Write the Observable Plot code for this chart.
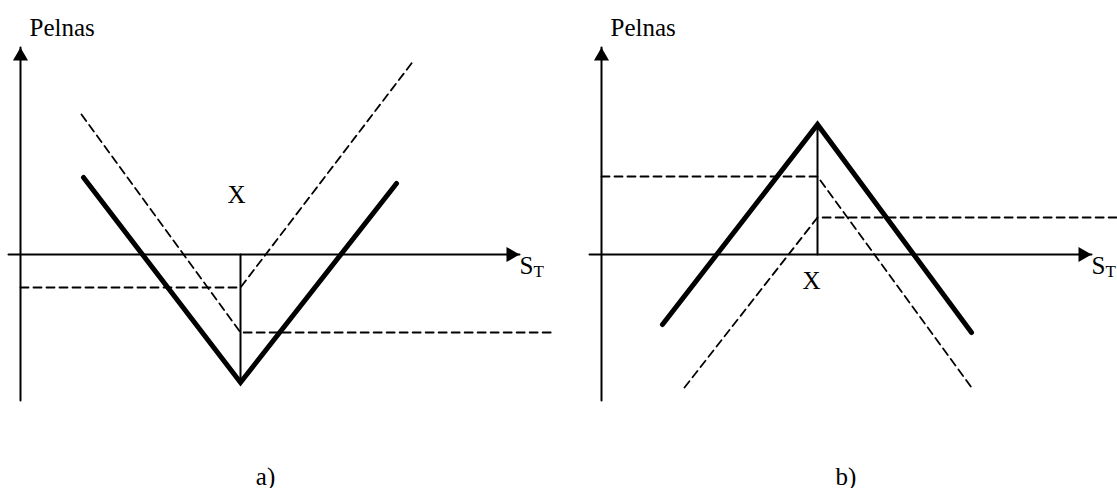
<!DOCTYPE html>
<html><head><meta charset="utf-8">
<script src="https://cdn.jsdelivr.net/npm/d3@7"></script>
<script src="https://cdn.jsdelivr.net/npm/@observablehq/plot@0.6"></script>
<style>
html,body{margin:0;padding:0;background:#fff;}
#chart{display:flex;width:1117px;height:488px;overflow:hidden;}
#chart svg{display:block;flex:none;}
</style></head><body><div id="chart"></div>
<script>
// ---- labels ----
const panelLabels = ["a)", "b)"];
const profitLabel = "Pelnas";
const priceLabel = "S";
const priceSub = "T";
const strikeLabel = "X";

// ---- axes (data units: S_T, profit) ----
const strike = [55, 54];
const stAxisStart = [-3, -3];
const stAxisEnd = [124.75, 122.5];
const plAxisStart = [-36.5, -36.5];
const plAxisEnd = [51.75, 51.75];

// ---- panel a: long straddle ----
const aStraddleST = [15.75, 55, 94];
const aStraddlePL = [19.25, -32, 17.75];
const aCallST = [0, 55, 98.5];
const aCallPL = [-8.25, -8.25, 48.75];
const aPutST = [15.25, 55, 133.5];
const aPutPL = [35, -19.5, -19.5];

// ---- panel b: short straddle ----
const bStraddleST = [15.25, 54, 92.5];
const bStraddlePL = [-17.5, 32.5, -19.5];
const bPutST = [0, 54, 92.5];
const bPutPL = [19.5, 19.5, -33.25];
const bCallST = [20.75, 54, 129];
const bCallPL = [-33.25, 9.25, 9.25];

const FONT = "'Liberation Serif', 'Times New Roman', serif";
const yDomain = [-58.5, 63.5];
const pts = (st, pl) => st.map((s, j) => ({st: s, pl: pl[j]}));

function panel(i, width, xDomain, straddle, legs, strikeTop, xlab) {
  const k = strike[i];
  const legMarks = legs.map(l => Plot.line(l, {x: "st", y: "pl", stroke: "black", strokeWidth: 1.8, strokeDasharray: "8,5"}));
  return Plot.plot({
    width, height: 488, margin: 0,
    x: {domain: xDomain, axis: null},
    y: {domain: yDomain, axis: null},
    style: {background: "white", fontFamily: FONT, overflow: "visible"},
    marks: [
      // axes
      Plot.line(pts([stAxisStart[i], stAxisEnd[i]], [0, 0]), {x: "st", y: "pl", stroke: "black", strokeWidth: 2}),
      Plot.line(pts([0, 0], [plAxisStart[i], plAxisEnd[i]]), {x: "st", y: "pl", stroke: "black", strokeWidth: 2}),
      Plot.dot(pts([stAxisEnd[i]], [0]), {x: "st", y: "pl", symbol: "triangle", r: 5.6, rotate: 90, fill: "black", stroke: "none", dx: -8.66}),
      Plot.dot(pts([0], [plAxisEnd[i]]), {x: "st", y: "pl", symbol: "triangle", r: 5.6, fill: "black", stroke: "none", dy: 8.66}),
      // strike vertical
      Plot.line(pts([k, k], [0, strikeTop]), {x: "st", y: "pl", stroke: "black", strokeWidth: 2}),
      // option legs (dashed)
      ...legMarks,
      // straddle (thick)
      Plot.line(straddle, {x: "st", y: "pl", stroke: "black", strokeWidth: 5, strokeLinejoin: "miter", strokeMiterlimit: 10}),
      // text
      Plot.text(pts([0], [plAxisEnd[i]]), {x: "st", y: "pl", text: () => profitLabel, textAnchor: "start", lineAnchor: "bottom", dx: 9, dy: -12, fontSize: 25, fontFamily: FONT, fill: "black"}),
      Plot.text(pts([stAxisEnd[i]], [0]), {x: "st", y: "pl", text: () => priceLabel, textAnchor: "start", lineAnchor: "bottom", dx: 0, dy: 19, fontSize: 25, fontFamily: FONT, fill: "black"}),
      Plot.text(pts([stAxisEnd[i]], [0]), {x: "st", y: "pl", text: () => priceSub, textAnchor: "start", lineAnchor: "bottom", dx: 14, dy: 22, fontSize: 17, fontFamily: FONT, fill: "black"}),
      Plot.text(pts([k], [0]), {x: "st", y: "pl", text: () => strikeLabel, textAnchor: "middle", lineAnchor: "bottom", dx: xlab.dx, dy: xlab.dy, fontSize: 25, fontFamily: FONT, fill: "black"}),
      Plot.text([panelLabels[i]], {frameAnchor: "bottom", text: d => d, textAnchor: "middle", lineAnchor: "bottom", dx: i === 0 ? -14 : 8, dy: -4, fontSize: 25, fontFamily: FONT, fill: "black"})
    ]
  });
}

const chart = document.getElementById("chart");
chart.append(
  panel(0, 558, [-5, 134.5], pts(aStraddleST, aStraddlePL),
    [pts(aCallST, aCallPL), pts(aPutST, aPutPL)], -32, {dx: -4, dy: -52}),
  panel(1, 559, [-10.75, 129], pts(bStraddleST, bStraddlePL),
    [pts(bPutST, bPutPL), pts(bCallST, bCallPL)], 32.5, {dx: -6, dy: 34})
);
</script></body></html>
